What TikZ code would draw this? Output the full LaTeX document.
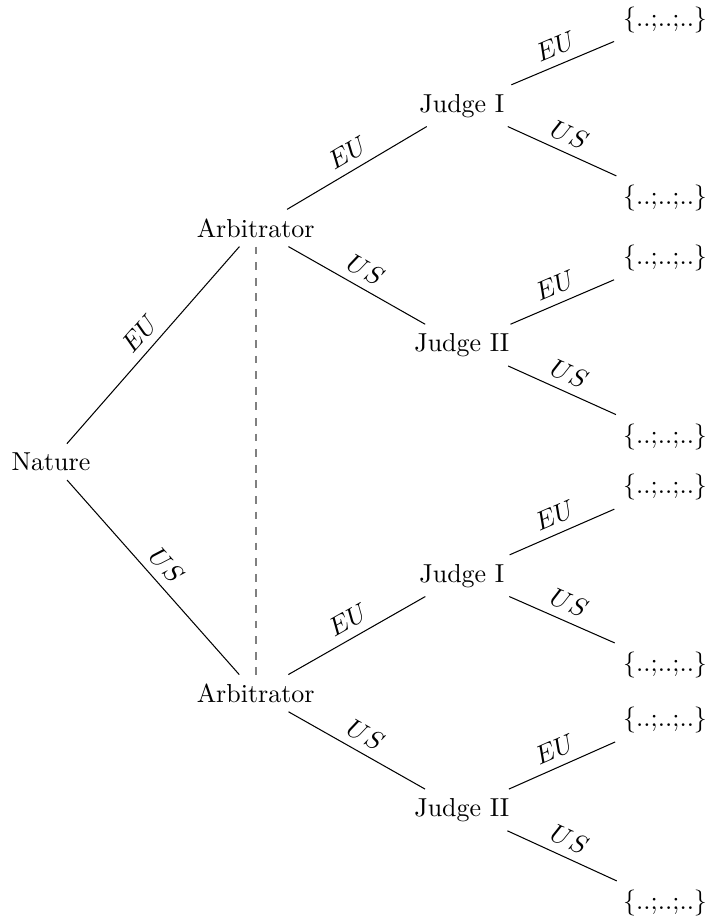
\documentclass[tikz,border=0pt]{standalone}
\tikzset{
  move/.style={sloped, above},
  info/.style={draw=gray, dashed, line width=0.7pt},
}
\def\outcome{\{..;..;..\}}
\begin{document}
\begin{tikzpicture}
  \useasboundingbox (0,0) rectangle (9.607,-12.49);
  % players
  \node (nature) at (0.69,-6.25) {Nature};
  \node (arbA) at (3.46,-3.085) {Arbitrator};
  \node (arbB) at (3.46,-9.38) {Arbitrator};
  \node (judgeA1) at (6.25,-1.43) {Judge I};
  \node (judgeA2) at (6.25,-4.67) {Judge II};
  \node (judgeB1) at (6.25,-7.79) {Judge I};
  \node (judgeB2) at (6.25,-10.96) {Judge II};
  % outcomes
  \foreach \n/\y in {1/-0.27, 2/-2.68, 3/-3.49, 4/-5.91, 5/-6.59, 6/-9.0, 7/-9.74, 8/-12.22}
    \node (out\n) at (9.0,\y) {\outcome};
  % moves
  \draw (nature) -- node[move] {$EU$} (arbA);
  \draw (nature) -- node[move] {$US$} (arbB);
  \draw (arbA) -- node[move] {$EU$} (judgeA1);
  \draw (arbA) -- node[move] {$US$} (judgeA2);
  \draw (arbB) -- node[move] {$EU$} (judgeB1);
  \draw (arbB) -- node[move] {$US$} (judgeB2);
  \foreach \j/\a/\b in {judgeA1/1/2, judgeA2/3/4, judgeB1/5/6, judgeB2/7/8} {
    \draw (\j) -- node[move] {$EU$} (out\a);
    \draw (\j) -- node[move] {$US$} (out\b);
  }
  % information set
  \draw[info] (arbA) -- (arbB);
\end{tikzpicture}
\end{document}
